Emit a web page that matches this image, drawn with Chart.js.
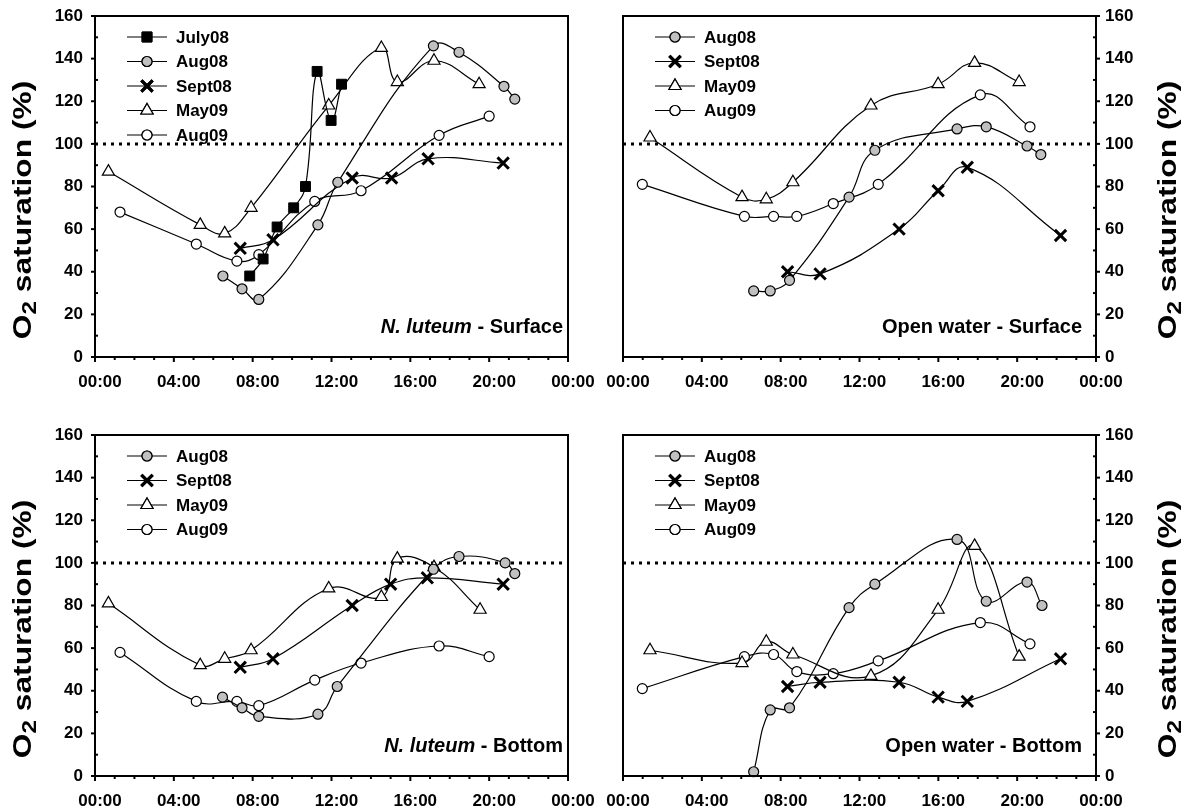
<!DOCTYPE html>
<html lang="en">
<head>
<meta charset="UTF-8">
<title>O2 saturation - N. luteum / open water</title>
<script src="https://cdn.jsdelivr.net/npm/chart.js"></script>
<style>
  body { margin: 0; background: #fff; }
  .figure { position: relative; width: 1193px; height: 812px; }
  .figure canvas { position: absolute; left: 0; top: 0; }
</style>
</head>
<body>
<div class="figure">
  <canvas id="nlSurface" width="1193" height="812"></canvas>
  <canvas id="owSurface" width="1193" height="812"></canvas>
  <canvas id="nlBottom" width="1193" height="812"></canvas>
  <canvas id="owBottom" width="1193" height="812"></canvas>
</div>

<script>
// time of day in decimal hours, O2 saturation in %

// N. luteum - surface
const nlSurfJuly08Time = [7.85, 8.53, 9.24, 10.08, 10.68, 11.27, 11.98, 12.51];
const nlSurfJuly08O2   = [38, 46, 61, 70, 80, 134, 111, 128];
const nlSurfAug08Time  = [6.49, 7.46, 8.31, 11.31, 12.32, 17.17, 18.47, 20.75, 21.3];
const nlSurfAug08O2    = [38, 32, 27, 62, 82, 146, 143, 127, 121];
const nlSurfSept08Time = [7.37, 9.03, 13.05, 15.05, 16.9, 20.71];
const nlSurfSept08O2   = [51, 55, 84, 84, 93, 91];
const nlSurfMay09Time  = [0.68, 5.34, 6.58, 7.92, 11.86, 14.53, 15.34, 17.2, 19.49];
const nlSurfMay09O2    = [87, 62, 58, 70, 118, 145, 129, 139, 128];
const nlSurfAug09Time  = [1.27, 5.14, 7.2, 8.31, 11.15, 13.5, 17.46, 20];
const nlSurfAug09O2    = [68, 53, 45, 48, 73, 78, 104, 113];

// open water - surface
const owSurfAug08Time  = [6.63, 7.47, 8.45, 11.47, 12.78, 16.95, 18.43, 20.5, 21.2];
const owSurfAug08O2    = [31, 31, 36, 75, 97, 107, 108, 99, 95];
const owSurfSept08Time = [8.35, 10, 14.01, 15.99, 17.47, 22.2];
const owSurfSept08O2   = [40, 39, 60, 78, 89, 57];
const owSurfMay09Time  = [1.37, 6.04, 7.27, 8.62, 12.58, 15.99, 17.84, 20.1];
const owSurfMay09O2    = [103, 75, 74, 82, 118, 128, 138, 129];
const owSurfAug09Time  = [0.98, 6.16, 7.64, 8.82, 10.67, 12.95, 18.13, 20.65];
const owSurfAug09O2    = [81, 66, 66, 66, 72, 81, 123, 108];

// N. luteum - bottom
const nlBotAug08Time  = [6.47, 7.46, 8.31, 11.31, 12.29, 17.17, 18.47, 20.81, 21.3];
const nlBotAug08O2    = [37, 32, 28, 29, 42, 97, 103, 100, 95];
const nlBotSept08Time = [7.37, 9.03, 13.05, 15, 16.86, 20.71];
const nlBotSept08O2   = [51, 55, 80, 90, 93, 90];
const nlBotMay09Time  = [0.68, 5.34, 6.58, 7.92, 11.86, 14.53, 15.34, 17.2, 19.54];
const nlBotMay09O2    = [81, 52, 55, 59, 88, 84, 102, 98, 78];
const nlBotAug09Time  = [1.27, 5.14, 7.2, 8.31, 11.15, 13.5, 17.46, 20];
const nlBotAug09O2    = [58, 35, 35, 33, 45, 53, 61, 56];

// open water - bottom
const owBotAug08Time  = [6.63, 7.47, 8.45, 11.47, 12.78, 16.95, 18.43, 20.5, 21.26];
const owBotAug08O2    = [2, 31, 32, 79, 90, 111, 82, 91, 80];
const owBotSept08Time = [8.35, 10, 14.01, 15.99, 17.47, 22.2];
const owBotSept08O2   = [42, 44, 44, 37, 35, 55];
const owBotMay09Time  = [1.37, 6.04, 7.27, 8.62, 12.58, 15.99, 17.84, 20.1];
const owBotMay09O2    = [59, 53, 63, 57, 47, 78, 108, 56];
const owBotAug09Time  = [0.98, 6.16, 7.64, 8.82, 10.67, 12.95, 18.13, 20.65];
const owBotAug09O2    = [41, 56, 57, 49, 48, 54, 72, 62];

const hourTicks = [0, 4, 8, 12, 16, 20, 24];
const o2Ticks = [0, 20, 40, 60, 80, 100, 120, 140, 160];
const saturationLine = 100;

const FONT = '"Liberation Sans", Arial, Helvetica, sans-serif';

// marker look per campaign
const campaignStyle = {
  July08: { pointStyle: 'rect',     radius: 7,   fill: '#000000', bw: 1 },
  Aug08:  { pointStyle: 'circle',   radius: 5,   fill: '#c0c0c0', bw: 1.2 },
  Sept08: { pointStyle: 'crossRot', radius: 8,   fill: '#000000', bw: 3 },
  May09:  { pointStyle: 'triangle', radius: 7,   fill: '#ffffff', bw: 1.2 },
  Aug09:  { pointStyle: 'circle',   radius: 5,   fill: '#ffffff', bw: 1.2 }
};

function points(times, values) {
  return times.map((t, i) => ({ x: t, y: values[i] }));
}

function series(name, times, values) {
  const s = campaignStyle[name];
  return {
    label: name,
    data: points(times, values),
    borderColor: '#000',
    borderWidth: 1.2,
    tension: 0.42,
    pointStyle: s.pointStyle,
    pointRadius: s.radius,
    pointBackgroundColor: s.fill,
    pointBorderColor: '#000',
    pointBorderWidth: s.bw,
    clip: false,
    order: 1
  };
}

function refLine() {
  return {
    label: '',
    data: [{ x: 0, y: saturationLine }, { x: 24, y: saturationLine }],
    borderColor: '#000',
    borderWidth: 3,
    borderDash: [3, 5],
    pointRadius: 0,
    order: 10
  };
}

function hhmm(h) {
  const v = h % 24;
  return (v < 10 ? '0' : '') + v + ':00';
}

function strokeLine(ctx, x1, y1, x2, y2) {
  ctx.beginPath();
  ctx.moveTo(x1, y1);
  ctx.lineTo(x2, y2);
  ctx.stroke();
}

// box, ticks, tick labels, axis title, legend and caption of one panel
const panelDecor = {
  id: 'panelDecor',
  afterDraw(chart, args, opts) {
    const { ctx, chartArea: a, scales: { x, y } } = chart;
    ctx.save();
    ctx.strokeStyle = '#000';
    ctx.fillStyle = '#000';
    ctx.lineWidth = 2;
    ctx.strokeRect(a.left, a.top, a.right - a.left, a.bottom - a.top);

    // hourly ticks below the time axis
    for (let h = 0; h <= 24; h++) {
      const px = x.getPixelForValue(h);
      strokeLine(ctx, px, a.bottom, px, a.bottom + (h % 4 === 0 ? 5 : 3));
    }
    ctx.font = 'bold 17px ' + FONT;
    ctx.textAlign = 'center';
    ctx.textBaseline = 'middle';
    hourTicks.forEach(h => ctx.fillText(hhmm(h), x.getPixelForValue(h) + 5, a.bottom + 25));

    // saturation axis: majors outward, minors inward
    const left = opts.side === 'left';
    const ax = left ? a.left : a.right;
    const out = left ? -1 : 1;
    for (let v = 0; v <= 160; v += 10) {
      const py = y.getPixelForValue(v);
      if (v % 20 === 0) strokeLine(ctx, ax, py, ax + out * 4, py);
      else strokeLine(ctx, ax, py, ax - out * 3, py);
    }
    ctx.textAlign = left ? 'right' : 'left';
    o2Ticks.forEach(v => ctx.fillText(String(v), ax + out * (left ? 12 : 9), y.getPixelForValue(v)));

    // axis title with subscript 2, a little stretched along its length
    const big = 'bold 26px ' + FONT;
    const small = 'bold 20px ' + FONT;
    ctx.font = big;
    const wO = ctx.measureText('O').width;
    const wRest = ctx.measureText(' saturation (%)').width;
    ctx.font = small;
    const w2 = ctx.measureText('2').width;
    const total = wO + w2 + wRest;
    ctx.save();
    ctx.translate(opts.titleX, a.top + 194);
    ctx.rotate(-Math.PI / 2);
    ctx.scale(1.22, 1);
    ctx.textAlign = 'left';
    ctx.textBaseline = 'middle';
    let tx = -total / 2;
    ctx.font = big;
    ctx.fillText('O', tx, 0);
    tx += wO;
    ctx.font = small;
    ctx.fillText('2', tx, 6);
    tx += w2;
    ctx.font = big;
    ctx.fillText(' saturation (%)', tx, 0);
    ctx.restore();

    // legend: line sample with marker, then label
    let row = 0;
    chart.data.datasets.forEach(ds => {
      if (!ds.label) return;
      const ly = a.top + 21 + row * 24.5;
      const lx = opts.legendX;
      ctx.lineWidth = 1.2;
      strokeLine(ctx, lx, ly, lx + 40, ly);
      ctx.fillStyle = ds.pointBackgroundColor;
      ctx.lineWidth = ds.pointBorderWidth;
      Chart.helpers.drawPoint(ctx, { pointStyle: ds.pointStyle, radius: ds.pointRadius, borderWidth: ds.pointBorderWidth, rotation: 0 }, lx + 20, ly);
      ctx.fill();
      ctx.stroke();
      ctx.fillStyle = '#000';
      ctx.font = 'bold 17px ' + FONT;
      ctx.textAlign = 'left';
      ctx.textBaseline = 'middle';
      ctx.fillText(ds.label, lx + 49, ly + 1);
      row++;
    });

    // caption in the lower right corner
    const parts = opts.caption;
    let w = 0;
    parts.forEach(p => {
      ctx.font = (p.italic ? 'italic ' : '') + 'bold 20px ' + FONT;
      p.w = ctx.measureText(p.text).width;
      w += p.w;
    });
    let cx = opts.captionRight - w;
    ctx.textAlign = 'left';
    ctx.textBaseline = 'alphabetic';
    parts.forEach(p => {
      ctx.font = (p.italic ? 'italic ' : '') + 'bold 20px ' + FONT;
      ctx.fillText(p.text, cx, a.bottom - 24);
      cx += p.w;
    });
    ctx.restore();
  }
};

function makePanel(id, box, side, datasets, caption, captionRight, legendX, titleX) {
  new Chart(document.getElementById(id), {
    type: 'line',
    data: { datasets: datasets },
    options: {
      responsive: false,
      animation: false,
      devicePixelRatio: 1,
      layout: {
        padding: { left: box.left, top: box.top, right: 1193 - box.right, bottom: 812 - box.bottom }
      },
      scales: {
        x: { type: 'linear', min: 0, max: 24, display: false },
        y: { type: 'linear', min: 0, max: 160, display: false }
      },
      plugins: {
        legend: { display: false },
        tooltip: { enabled: false },
        panelDecor: { side, caption, captionRight, legendX, titleX }
      }
    },
    plugins: [panelDecor]
  });
}

makePanel('nlSurface', { left: 95, top: 16, right: 568, bottom: 357 }, 'left', [
  refLine(),
  series('July08', nlSurfJuly08Time, nlSurfJuly08O2),
  series('Aug08', nlSurfAug08Time, nlSurfAug08O2),
  series('Sept08', nlSurfSept08Time, nlSurfSept08O2),
  series('May09', nlSurfMay09Time, nlSurfMay09O2),
  series('Aug09', nlSurfAug09Time, nlSurfAug09O2)
], [{ text: 'N. luteum', italic: true }, { text: ' - Surface' }], 563, 127, 24);

makePanel('owSurface', { left: 623, top: 16, right: 1096, bottom: 357 }, 'right', [
  refLine(),
  series('Aug08', owSurfAug08Time, owSurfAug08O2),
  series('Sept08', owSurfSept08Time, owSurfSept08O2),
  series('May09', owSurfMay09Time, owSurfMay09O2),
  series('Aug09', owSurfAug09Time, owSurfAug09O2)
], [{ text: 'Open water - Surface' }], 1082, 655, 1169);

makePanel('nlBottom', { left: 95, top: 435, right: 568, bottom: 776 }, 'left', [
  refLine(),
  series('Aug08', nlBotAug08Time, nlBotAug08O2),
  series('Sept08', nlBotSept08Time, nlBotSept08O2),
  series('May09', nlBotMay09Time, nlBotMay09O2),
  series('Aug09', nlBotAug09Time, nlBotAug09O2)
], [{ text: 'N. luteum', italic: true }, { text: ' - Bottom' }], 563, 127, 24);

makePanel('owBottom', { left: 623, top: 435, right: 1096, bottom: 776 }, 'right', [
  refLine(),
  series('Aug08', owBotAug08Time, owBotAug08O2),
  series('Sept08', owBotSept08Time, owBotSept08O2),
  series('May09', owBotMay09Time, owBotMay09O2),
  series('Aug09', owBotAug09Time, owBotAug09O2)
], [{ text: 'Open water - Bottom' }], 1082, 655, 1169);
</script>
</body>
</html>
